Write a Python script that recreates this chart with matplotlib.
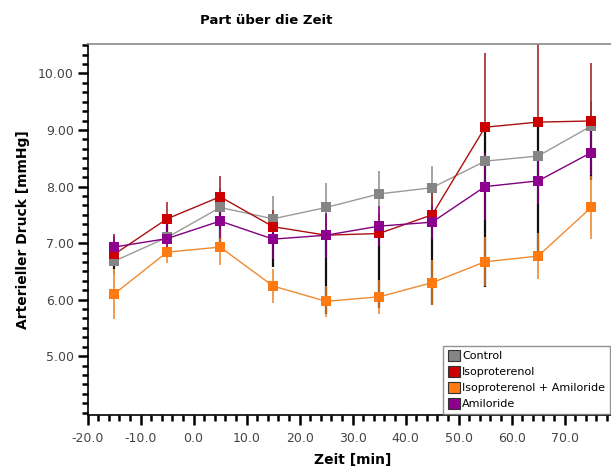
import matplotlib
matplotlib.use("Agg")
from matplotlib import pyplot as plt
from matplotlib.patches import Patch
from matplotlib.ticker import MultipleLocator, FormatStrFormatter

# time points [min]
zeit = [-15, -5, 5, 15, 25, 35, 45, 55, 65, 75]

# mean arterial pressure [mmHg]
control = [6.68, 7.10, 7.63, 7.43, 7.63, 7.87, 7.98, 8.45, 8.54, 9.07]
iso = [6.80, 7.43, 7.82, 7.29, 7.14, 7.17, 7.50, 9.05, 9.14, 9.16]
iso_amil = [6.10, 6.84, 6.93, 6.24, 5.97, 6.05, 6.30, 6.67, 6.77, 7.63]
amil = [6.93, 7.08, 7.39, 7.07, 7.14, 7.30, 7.37, 8.00, 8.10, 8.60]

# error bars
control_err = [0.22, 0.28, 0.35, 0.40, 0.43, 0.40, 0.39, 0.45, 0.50, 0.45]
iso_err_up = [0.36, 0.30, 0.37, 0.30, 0.35, 0.35, 0.40, 1.31, 1.60, 1.02]
iso_err_low = [0.25, 0.45, 0.89, 0.71, 1.39, 1.32, 1.60, 2.82, 2.32, 1.04]
iso_amil_err = [0.45, 0.20, 0.32, 0.30, 0.27, 0.30, 0.40, 0.43, 0.40, 0.55]
amil_err = [0.20, 0.25, 0.30, 0.35, 0.40, 0.35, 0.30, 0.60, 0.40, 0.40]

x_ticks = [-20, -10, 0, 10, 20, 30, 40, 50, 60, 70]
y_ticks = [5, 6, 7, 8, 9, 10]

labels = ["Control", "Isoproterenol", "Isoproterenol + Amiloride", "Amiloride"]
colors = ["#858585", "#cc0000", "#ff7a10", "#8e008e"]

fig = plt.figure(figsize=(6.11, 4.72), dpi=100)
ax = fig.add_axes([0.1434, 0.1208, 0.8674, 0.787])

ebkw = dict(fmt="none", elinewidth=1.1, capsize=0, zorder=1)
ax.errorbar(zeit, control, yerr=control_err, ecolor="#8a8a8a", **ebkw)
ax.errorbar(zeit, iso, yerr=[iso_err_low, [0] * len(zeit)], ecolor="#151010", elinewidth=1.6,
            fmt="none", capsize=0, zorder=1)
ax.errorbar(zeit, iso, yerr=[[0] * len(zeit), iso_err_up], ecolor="#9a1a1a", **ebkw)
ax.errorbar(zeit, iso_amil, yerr=iso_amil_err, ecolor="#f08020", **ebkw)
ax.errorbar(zeit, amil, yerr=amil_err, ecolor="#8a008a", **ebkw)

series = [control, iso, iso_amil, amil]
line_colors = ["#9a9a9a", "#aa1010", "#f08a30", "#800080"]
for ys, c, lc in zip(series, colors, line_colors):
    ax.plot(zeit, ys, color=lc, lw=1.0, zorder=2)
    ax.plot(zeit, ys, ls="none", marker="s", ms=7, mfc=c, mec=c, mew=0, zorder=3)

ax.set_xlim(-20, 80)
ax.set_ylim(3.96, 10.53)

ax.set_xticks(x_ticks)
ax.xaxis.set_minor_locator(MultipleLocator(2))
ax.xaxis.set_major_formatter(FormatStrFormatter("%.1f"))
ax.set_yticks(y_ticks)
ax.yaxis.set_minor_locator(MultipleLocator(1 / 6))
ax.yaxis.set_major_formatter(FormatStrFormatter("%.2f"))

ax.tick_params(axis="both", which="major", direction="out", length=7, width=1.8,
               labelsize=9, labelcolor="#444444", color="black")
ax.tick_params(axis="both", which="minor", direction="out", length=4, width=1.8, color="black")
ax.tick_params(axis="x", pad=5)
ax.tick_params(axis="y", pad=3)

ax.spines["right"].set_visible(False)
ax.spines["top"].set_color("#8a8a8a")
ax.spines["top"].set_linewidth(1.2)
ax.spines["left"].set_linewidth(1.2)
ax.spines["bottom"].set_linewidth(1.2)

ax.set_xlabel("Zeit [min]", fontsize=10, fontweight="bold", labelpad=6)
ax.set_ylabel("Arterieller Druck [mmHg]", fontsize=10, fontweight="bold", labelpad=6)
fig.text(0.435, 0.957, "Part über die Zeit", ha="center", va="center",
         fontsize=9.5, fontweight="bold")

handles = [Patch(facecolor=c, edgecolor="#333333", lw=0.8) for c in colors]
leg = ax.legend(handles, labels, loc="lower left", bbox_to_anchor=(0.671, 0.003),
                fontsize=8, frameon=True, fancybox=False, handlelength=1.1,
                handleheight=1.1, handletextpad=0.2, labelspacing=0.45,
                borderpad=0.4, borderaxespad=0)
leg.get_frame().set_edgecolor("#777777")
leg.get_frame().set_linewidth(1.0)

fig.savefig("out.png", dpi=100, facecolor="white")
